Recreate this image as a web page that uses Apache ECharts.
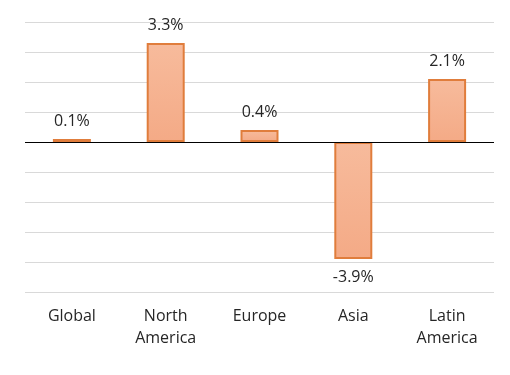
<!DOCTYPE html>
<html>
<head>
<meta charset="utf-8">
<script src="https://cdn.jsdelivr.net/npm/echarts@6/dist/echarts.min.js"></script>
<style>
  html, body { margin: 0; padding: 0; background: #fff; }
  #chart { width: 510px; height: 375px; }
</style>
</head>
<body>
<div id="chart"></div>
<script>
// 数据
const categories = ['Global', 'North\nAmerica', 'Europe', 'Asia', 'Latin\nAmerica'];
const growth = [0.1, 3.3, 0.4, -3.9, 2.1];
const axisMin = -5;
const axisMax = 4;
const axisStep = 1;

const chart = echarts.init(document.getElementById('chart'));

chart.setOption({
    animation: false,
    grid: { left: 25, right: 16, top: 22, bottom: 83 },
    xAxis: {
        type: 'category',
        data: categories,
        axisLine: { show: false },
        axisTick: { show: false },
        axisLabel: {
            color: '#262626',
            fontFamily: 'Open Sans',
            fontSize: 16,
            lineHeight: 22,
            margin: 13
        }
    },
    yAxis: {
        type: 'value',
        min: axisMin,
        max: axisMax,
        interval: axisStep,
        axisLabel: { show: false },
        axisLine: { show: false },
        axisTick: { show: false },
        splitLine: { lineStyle: { color: '#d9d9d9', width: 1 } }
    },
    series: [{
        type: 'bar',
        data: growth,
        barWidth: 38,
        itemStyle: {
            color: new echarts.graphic.LinearGradient(0, 0, 0, 1, [
                { offset: 0, color: '#f7bb9c' },
                { offset: 1, color: '#f4aa86' }
            ]),
            borderColor: '#e07d3c',
            borderWidth: 2
        },
        label: {
            show: true,
            position: 'outside',
            distance: 10,
            color: '#262626',
            fontFamily: 'Open Sans',
            fontSize: 16,
            formatter: p => p.value.toFixed(1) + '%'
        },
        markLine: {
            silent: true,
            symbol: 'none',
            label: { show: false },
            lineStyle: { color: '#000', type: 'solid', width: 1 },
            data: [{ yAxis: 0 }]
        }
    }]
});

window.addEventListener('resize', () => {
    chart.resize();
});
</script>
</body>
</html>
